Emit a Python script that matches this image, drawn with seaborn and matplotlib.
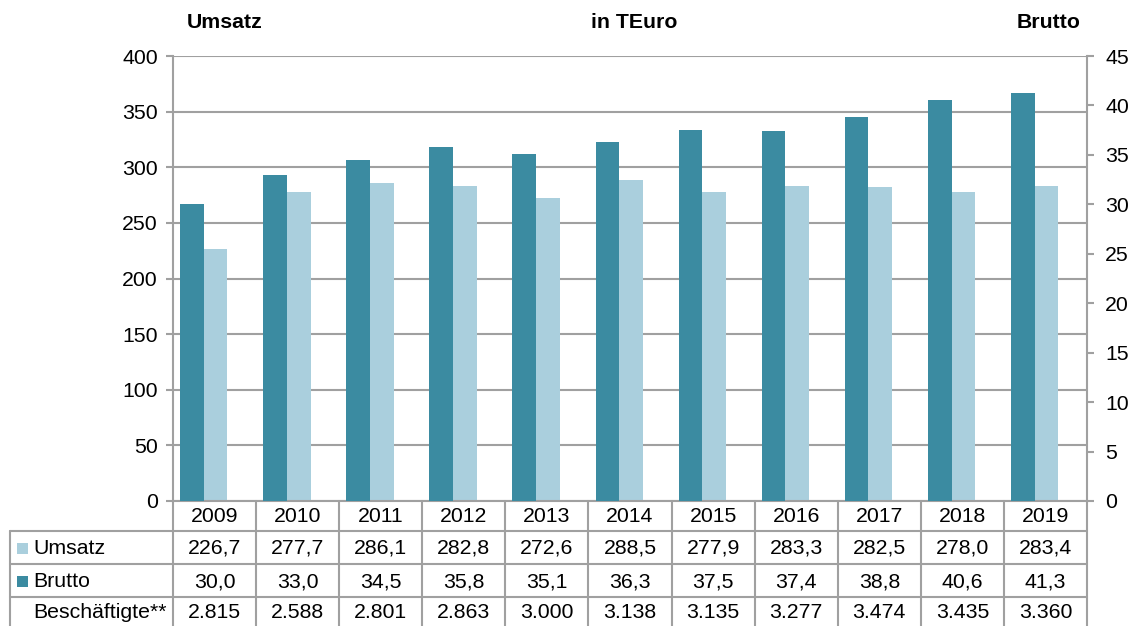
import numpy as np
import matplotlib
matplotlib.use("Agg")
import matplotlib.pyplot as plt
from matplotlib.lines import Line2D
from matplotlib.patches import Rectangle
import seaborn as sns

# ---- data -------------------------------------------------------------
years = [2009, 2010, 2011, 2012, 2013, 2014, 2015, 2016, 2017, 2018, 2019]
umsatz = [226.7, 277.7, 286.1, 282.8, 272.6, 288.5, 277.9, 283.3, 282.5, 278.0, 283.4]
brutto = [30.0, 33.0, 34.5, 35.8, 35.1, 36.3, 37.5, 37.4, 38.8, 40.6, 41.3]
beschaeftigte = [2815, 2588, 2801, 2863, 3000, 3138, 3135, 3277, 3474, 3435, 3360]

left_ticks = list(range(0, 401, 50))
right_ticks = list(range(0, 46, 5))

# ---- style ------------------------------------------------------------
sns.set_theme(style="white")
plt.rcParams["font.family"] = ["Liberation Sans", "DejaVu Sans"]
plt.rcParams["text.color"] = "black"

DARK = "#3B8BA1"
LIGHT = "#AACFDD"
GRID = "#A0A0A0"
FS = 15.3

W, H = 1134, 626
fig = plt.figure(figsize=(W / 100, H / 100), dpi=100)

# plot area in pixels
L, R, T, B = 173, 1087, 56, 501
ax = fig.add_axes([L / W, 1 - B / H, (R - L) / W, (B - T) / H])
ax2 = ax.twinx()

n = len(years)
idx = np.arange(n)
BAR_W = 0.285
brutto_x = idx - 0.5 + 0.085 + BAR_W / 2
umsatz_x = brutto_x + BAR_W

sns.barplot(x=umsatz_x, y=umsatz, native_scale=True, width=BAR_W,
            color=LIGHT, saturation=1, errorbar=None, linewidth=0, ax=ax)
sns.barplot(x=brutto_x, y=brutto, native_scale=True, width=BAR_W,
            color=DARK, saturation=1, errorbar=None, linewidth=0, ax=ax2)

ax.set_xlim(-0.5, n - 0.5)
ax.set_ylim(0, 400)
ax2.set_ylim(0, 45)
ax.set_yticks(left_ticks)
ax2.set_yticks(right_ticks)
ax.set_xticks([])
ax2.set_xticks([])
for a in (ax, ax2):
    a.set_xlabel("")
    a.set_ylabel("")

ax.set_axisbelow(True)
ax.yaxis.grid(True, color=GRID, linewidth=1.5)
ax.xaxis.grid(False)

for name in ("top", "right"):
    ax.spines[name].set_visible(False)
for name in ("top", "left", "bottom"):
    ax2.spines[name].set_visible(False)
for sp in (ax.spines["left"], ax.spines["bottom"], ax2.spines["right"]):
    sp.set_color(GRID)
    sp.set_linewidth(1.5)

ax.tick_params(axis="y", which="major", left=True, length=5, width=1.5,
               color=GRID, labelsize=FS, pad=6, labelcolor="black")
ax2.tick_params(axis="y", which="major", right=True, length=5, width=1.5,
                color=GRID, labelsize=FS, pad=8, labelcolor="black")

# ---- headings above the plot -------------------------------------------
def fx(px):
    return px / W

def fy(py):
    return 1 - py / H

fig.text(fx(225), fy(22), "Umsatz", ha="center", va="center",
         fontsize=FS, fontweight="bold")
fig.text(fx(634), fy(22), "in TEuro", ha="center", va="center",
         fontsize=FS, fontweight="bold")
fig.text(fx(1049), fy(22), "Brutto", ha="center", va="center",
         fontsize=FS, fontweight="bold")

# ---- data table below the plot ------------------------------------------
def hline(x0, x1, y):
    fig.add_artist(Line2D([fx(x0), fx(x1)], [fy(y), fy(y)],
                          color=GRID, linewidth=1.5))

def vline(x, y0, y1):
    fig.add_artist(Line2D([fx(x), fx(x)], [fy(y0), fy(y1)],
                          color=GRID, linewidth=1.5))

col_w = (R - L) / n
TAB_L = 10
rows_y = [501, 531, 564, 597, 627]

hline(TAB_L, R, rows_y[1])
hline(TAB_L, R, rows_y[2])
hline(TAB_L, R, rows_y[3])
vline(TAB_L, rows_y[1], rows_y[4])
for k in range(n + 1):
    vline(L + k * col_w, rows_y[0], rows_y[4])

def fmt_dec(v):
    return f"{v:.1f}".replace(".", ",")

def fmt_int(v):
    return f"{v:,}".replace(",", ".")

row_texts = [
    [str(y) for y in years],
    [fmt_dec(v) for v in umsatz],
    [fmt_dec(v) for v in brutto],
    [fmt_int(v) for v in beschaeftigte],
]
for r, texts in enumerate(row_texts):
    cy = (rows_y[r] + rows_y[r + 1]) / 2 + 1
    for i, s in enumerate(texts):
        cx = L + (i + 0.5) * col_w
        fig.text(fx(cx), fy(cy), s, ha="center", va="center", fontsize=FS)

row_labels = [("Umsatz", LIGHT), ("Brutto", DARK), ("Beschäftigte**", None)]
for r, (label, col) in enumerate(row_labels, start=1):
    cy = (rows_y[r] + rows_y[r + 1]) / 2 + 1
    fig.text(fx(33), fy(cy), label, ha="left", va="center", fontsize=FS)
    if col is not None:
        fig.add_artist(Rectangle((fx(17), fy(cy + 5)), 11 / W, 11 / H,
                                 facecolor=col, edgecolor="none",
                                 transform=fig.transFigure))

fig.savefig("out.png", dpi=100)
